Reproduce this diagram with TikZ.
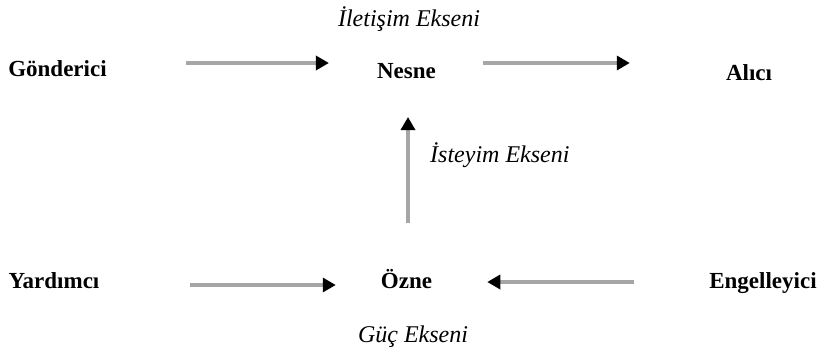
\documentclass[tikz,border=0pt]{standalone}
\usepackage{fontspec}
\setmainfont{Liberation Serif}
\usetikzlibrary{arrows.meta}
\begin{document}
\begin{tikzpicture}[x=1bp,y=1bp,
  lbl/.style={inner sep=0pt,anchor=base,font=\fontsize{23bp}{27bp}\selectfont\bfseries},
  axis/.style={inner sep=0pt,anchor=base,font=\fontsize{24bp}{28bp}\selectfont\itshape},
  arr/.style={draw=black!35,line width=3.5bp,-{Triangle[length=13bp,width=14bp,color=black]}}]
\useasboundingbox (0,0) rectangle (820,353);
\node[axis] (ilet) at (409,327) {İletişim Ekseni};
\node[lbl] (gon) at (57.5,277) {Gönderici};
\node[lbl] (nes) at (406.5,275) {Nesne};
\node[lbl] (ali) at (749,273) {Alıcı};
\node[axis,anchor=base west] (ist) at (430,191) {İsteyim Ekseni};
\node[lbl] (yar) at (54,65) {Yardımcı};
\node[lbl] (ozn) at (406.5,65) {Özne};
\node[lbl] (eng) at (763,65) {Engelleyici};
\node[axis] (guc) at (413,11) {Güç Ekseni};
\draw[arr] ([shift={(79,13)}]gon.base east) -- ([shift={(-48,15)}]nes.base west);
\draw[arr] ([shift={(47,15)}]nes.base east) -- ([shift={(-96,17)}]ali.base west);
\draw[arr] ([shift={(1.5,65)}]ozn.base) -- ([shift={(1.5,-39)}]nes.base);
\draw[arr] ([shift={(90,3)}]yar.base east) -- ([shift={(-45,3)}]ozn.base west);
\draw[arr] ([shift={(-75,6)}]eng.base west) -- ([shift={(55,6)}]ozn.base east);
\end{tikzpicture}
\end{document}
